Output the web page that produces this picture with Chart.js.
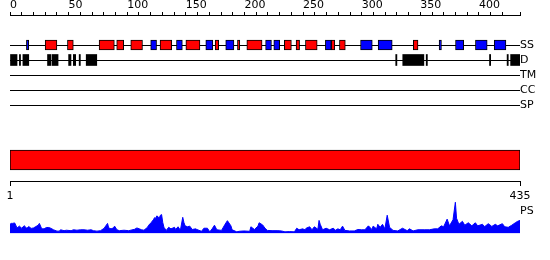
<!DOCTYPE html>
<html><head><meta charset="utf-8">
<script src="https://cdn.jsdelivr.net/npm/chart.js@4/dist/chart.umd.min.js"></script>
<style>
html,body{margin:0;padding:0;background:#fff;}
#wrap{position:relative;width:550px;height:260px;overflow:hidden;background:#fff;}
canvas{position:absolute;left:0;}
</style></head><body>
<div id="wrap">
<canvas id="feat" width="550" height="115" style="top:0px"></canvas>
<canvas id="bar" width="550" height="80" style="top:130px"></canvas>
<canvas id="ps" width="550" height="45" style="top:195px"></canvas>
</div>
<script>
// ---- data ----
const seqLength = 435;
const rowLabels = ['SS', 'D', 'TM', 'CC', 'SP'];
const helix = [[30,40],[49,54],[76,89],[91,97],[103,113],[128,138],[150,162],[175,178],[194,196],[202,215],[234,240],[244,247],[252,262],[274,277],[281,286],[344,348]];
const strand = [[14,16],[120,125],[142,147],[167,173],[184,191],[218,223],[225,230],[269,274],[299,309],[314,326],[366,368],[380,387],[397,407],[413,423]];
const disorder = [[0,6],[8,9],[11,16],[32,35],[36,41],[50,52],[54,56],[59,60],[65,74],[329,330],[335,353],[355,356],[409,410],[424,425],[427,435]];
const domains = [[1,435]];
const psPositions = [1,2,3,5,7,9,10,11,13,15,16,17,19,21,23,25,26,28,30,32,34,36,38,41,43,44,47,49,53,55,58,61,64,67,70,72,75,78,81,84,85,87,89,90,92,94,98,102,107,109,113,115,118,119,121,123,124,125,126,128,129,130,131,132,134,136,138,141,142,144,146,148,149,150,152,154,156,159,160,164,166,169,171,173,175,177,181,184,186,189,190,194,196,200,205,206,209,212,213,216,218,220,224,229,232,235,239,243,245,247,250,252,253,256,258,260,263,264,265,267,270,273,276,278,280,282,284,286,290,294,297,300,303,306,309,310,313,314,316,318,320,322,324,327,331,335,339,341,344,348,354,358,362,365,368,370,373,375,378,380,381,383,386,388,391,394,397,399,403,405,408,411,414,416,420,422,425,428,431,433,435];
const psValues = [10,11,11,11.5,6,8,7,5.5,8.5,6,6.5,7.5,5.5,6,7.5,9,11,5,5,6.5,6.5,5.5,4,2.5,2.5,4,3,3.5,3,4,3.5,4,4,3.5,4,3,2.5,3,5.5,11,6,5,6,8,4,3,3.5,3,4.5,6,4,3.5,6.7,9,11.7,15,17.3,16.7,19.3,17,20,20.7,12,6.7,3.3,6.7,5,6.7,4.3,7.3,3.5,17.7,12,8.3,7.3,8,4.3,5,4.3,2.3,5.7,5.7,1.7,5,9,4,3.3,10,14,8.3,4,1.7,2.3,2.7,2.3,7.3,4.3,8,11.7,9.3,5.7,3.3,3,3,2.7,1.7,2,1.7,5.7,4,5,4,5.7,7.3,4,7.3,4.5,14.3,10,4,5.7,4,5.7,3.5,5,4,8,3.3,2.7,2.7,4.3,4,4,8.3,4.3,8,5,10,6.7,10,5,20,6.7,3.3,2.7,5.7,3,5,2.7,4,4,4,5,5,8.3,7.3,15.7,8.3,15,34.3,16.7,10,13.3,9,11.7,8.3,11.7,8.3,10,7.5,10.7,7.7,10,8.3,10.7,7.3,6.7,9,11.7,13.3,14.3];
const psLabel = 'PS';

// ---- styles ----
const FONT = {family: 'DejaVu Sans', size: 11};
const rowValue = (name) => 2 + rowLabels.indexOf(name);
const toPoints = (arr, row) => arr.map(r => ({x: r, y: rowValue(row)}));

// ---- feature rows chart ----
new Chart(document.getElementById('feat'), {
  type: 'bar',
  data: {
    datasets: [
      {label: 'strand', data: toPoints(strand, 'SS'), backgroundColor: '#0000ff', borderColor: '#000', borderWidth: 1, borderSkipped: false, barThickness: 10},
      {label: 'helix', data: toPoints(helix, 'SS'), backgroundColor: '#ff0000', borderColor: '#000', borderWidth: 1, borderSkipped: false, barThickness: 10},
      {label: 'disorder', data: toPoints(disorder, 'D'), backgroundColor: '#000', borderWidth: 0, barThickness: 11}
    ]
  },
  options: {
    indexAxis: 'y', responsive: false, animation: false, devicePixelRatio: 1,
    layout: {padding: {left: 10, right: 0, top: 0, bottom: 10}},
    plugins: {legend: {display: false}, tooltip: {enabled: false}},
    datasets: {bar: {grouped: false}},
    scales: {
      x: {
        type: 'linear', position: 'top', min: 0, max: seqLength,
        afterFit: s => { s.height = 15; },
        grid: {drawOnChartArea: false, drawTicks: true, tickLength: 3, color: '#000'},
        border: {display: true, color: '#000', width: 1},
        ticks: {stepSize: 10, autoSkip: false, maxRotation: 0, align: 'start', padding: 0, color: '#000', font: FONT,
          callback: v => (v % 50 === 0 ? String(v) : '')}
      },
      y: {
        type: 'linear', position: 'right', reverse: true, min: 0, max: 6, offset: false,
        afterFit: s => { s.width = 30; },
        grid: {drawTicks: false, offset: false, color: c => (c.tick && c.tick.value >= 2 ? '#000' : 'rgba(0,0,0,0)'), lineWidth: 1},
        border: {display: false},
        ticks: {stepSize: 1, autoSkip: false, padding: 0, color: '#000', font: FONT,
          callback: v => (v >= 2 ? rowLabels[v - 2] : '')}
      }
    }
  }
});

// ---- domain bar chart ----
new Chart(document.getElementById('bar'), {
  type: 'bar',
  data: {datasets: [{label: 'domain', data: domains.map(d => ({x: d, y: 1})), backgroundColor: '#ff0000', borderColor: '#000', borderWidth: 1, borderSkipped: false, barThickness: 20}]},
  options: {
    indexAxis: 'y', responsive: false, animation: false, devicePixelRatio: 1,
    layout: {padding: {left: 10, right: 30, top: 9, bottom: 0}},
    plugins: {legend: {display: false}, tooltip: {enabled: false}},
    scales: {
      x: {
        type: 'linear', position: 'bottom', min: 1, max: seqLength,
        afterFit: s => { s.height = 29; },
        afterBuildTicks: s => { s.ticks = [{value: 1}, {value: seqLength}]; },
        grid: {drawOnChartArea: false, drawTicks: true, tickLength: 5, color: '#000'},
        border: {display: true, color: '#000', width: 1},
        ticks: {autoSkip: false, maxRotation: 0, padding: 4, color: '#000', font: FONT, callback: v => String(v)}
      },
      y: {type: 'linear', display: false, min: 0, max: 2, offset: false}
    }
  }
});

// ---- PS profile chart ----
new Chart(document.getElementById('ps'), {
  type: 'line',
  data: {datasets: [{label: psLabel, data: psPositions.map((p, i) => ({x: p, y: psValues[i]})), borderColor: '#0000ff', backgroundColor: '#0000ff', borderWidth: 1, pointRadius: 0, fill: 'origin', tension: 0}]},
  options: {
    responsive: false, animation: false, devicePixelRatio: 1,
    layout: {padding: {left: 10, right: 0, top: 5, bottom: 5}},
    plugins: {legend: {display: false}, tooltip: {enabled: false}},
    scales: {
      x: {type: 'linear', display: false, min: 1, max: seqLength},
      y: {
        type: 'linear', position: 'right', min: 0, max: 35,
        afterFit: s => { s.width = 30; },
        afterBuildTicks: s => { s.ticks = [{value: 24}]; },
        grid: {display: false, drawTicks: false},
        border: {display: false},
        ticks: {padding: 0, color: '#000', font: FONT, callback: () => psLabel}
      }
    }
  }
});
</script>
</body></html>
